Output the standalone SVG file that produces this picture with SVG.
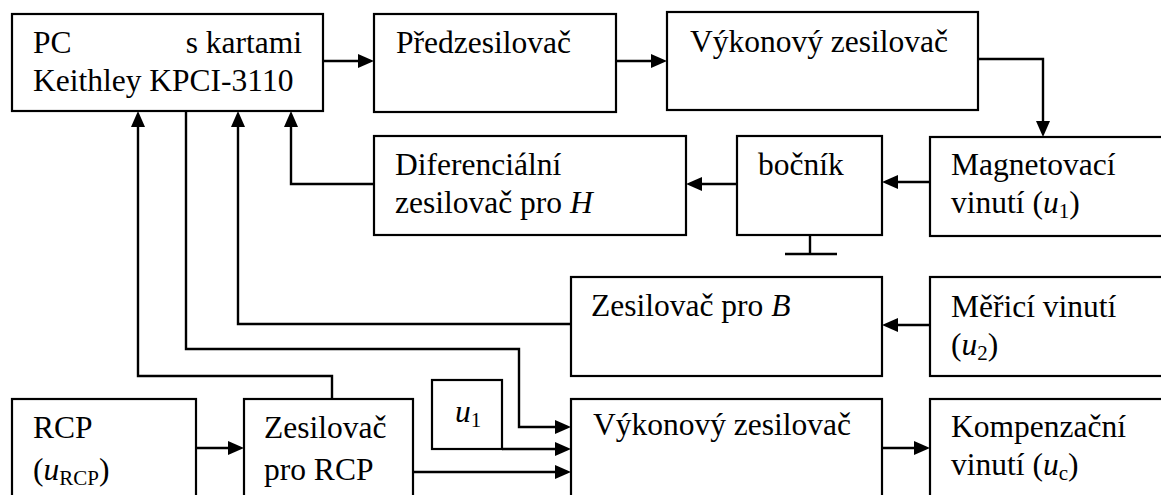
<svg xmlns="http://www.w3.org/2000/svg" width="1161" height="495" viewBox="0 0 1161 495" font-family="Liberation Serif">
<style>
.box{fill:#fff;stroke:#000;stroke-width:2.2}
.c{fill:none;stroke:#000;stroke-width:2.4}
.ah{fill:#000}
</style>
<rect width="1161" height="495" fill="#fff"/>
<g id="connectors">
<path class="c" d="M323,61 H360"/><path class="ah" d="M374,61 l-16,-7 v14 z"/>
<path class="c" d="M616,61 H653"/><path class="ah" d="M667,61 l-16,-7 v14 z"/>
<path class="c" d="M978,59 H1043 V123"/><path class="ah" d="M1043,137 l-7,-16 h14 z"/>
<path class="c" d="M930,182 H896"/><path class="ah" d="M882,182 l16,-7 v14 z"/>
<path class="c" d="M737,184 H700"/><path class="ah" d="M686,184 l16,-7 v14 z"/>
<path class="c" d="M374,184 H291 V125"/><path class="ah" d="M291,111 l-7,16 h14 z"/>
<path class="c" d="M810,235 V254 M785,254 H837"/>
<path class="c" d="M930,325 H896"/><path class="ah" d="M882,325 l16,-7 v14 z"/>
<path class="c" d="M571,324 H238 V125"/><path class="ah" d="M238,111 l-7,16 h14 z"/>
<path class="c" d="M186,111 V349 H519 V427 H557"/><path class="ah" d="M571,427 l-16,-7 v14 z"/>
<path class="c" d="M332,399 V376 H138 V125"/><path class="ah" d="M138,111 l-7,16 h14 z"/>
<path class="c" d="M196,448 H230"/><path class="ah" d="M244,448 l-16,-7 v14 z"/>
<path class="c" d="M502,449 H557"/><path class="ah" d="M571,449 l-16,-7 v14 z"/>
<path class="c" d="M413,472 H557"/><path class="ah" d="M571,472 l-16,-7 v14 z"/>
<path class="c" d="M882,448 H916"/><path class="ah" d="M930,448 l-16,-7 v14 z"/>
</g>
<g id="pc">
<rect class="box" x="12" y="14" width="311" height="97"/>
<text style="font-family:'Liberation Serif' !important;font-size:31.5px" x="33" y="53">PC</text>
<text style="font-family:'Liberation Serif' !important;font-size:31.5px" x="302" y="53" text-anchor="end">s kartami</text>
<text style="font-family:'Liberation Serif' !important;font-size:31.5px" x="33" y="91">Keithley KPCI-3110</text>
</g>
<g id="predzesilovac">
<rect class="box" x="374" y="14" width="242" height="98"/>
<text style="font-family:'Liberation Serif' !important;font-size:31.5px" x="396" y="53">Předzesilovač</text>
</g>
<g id="vykonovy1">
<rect class="box" x="667" y="12" width="311" height="98"/>
<text style="font-family:'Liberation Serif' !important;font-size:31.5px" x="690" y="52">Výkonový zesilovač</text>
</g>
<g id="diferencialni">
<rect class="box" x="374" y="136" width="312" height="99"/>
<text style="font-family:'Liberation Serif' !important;font-size:31.5px" x="395" y="175">Diferenciální</text>
<text style="font-family:'Liberation Serif' !important;font-size:31.5px" x="395" y="213">zesilovač pro <tspan font-style="italic">H</tspan></text>
</g>
<g id="bocnik">
<rect class="box" x="737" y="136" width="145" height="99"/>
<text style="font-family:'Liberation Serif' !important;font-size:31.5px" x="758" y="175">bočník</text>
</g>
<g id="magnetovaci">
<rect class="box" x="930" y="137" width="240" height="99"/>
<text style="font-family:'Liberation Serif' !important;font-size:31.5px" x="951" y="175">Magnetovací</text>
<text style="font-family:'Liberation Serif' !important;font-size:31.5px" x="951" y="213">vinutí (<tspan font-style="italic">u</tspan><tspan font-size="21" dy="5">1</tspan><tspan dy="-5">)</tspan></text>
</g>
<g id="zesilovacB">
<rect class="box" x="571" y="277" width="311" height="99"/>
<text style="font-family:'Liberation Serif' !important;font-size:31.5px" x="591" y="316">Zesilovač pro <tspan font-style="italic">B</tspan></text>
</g>
<g id="merici">
<rect class="box" x="930" y="277" width="240" height="99"/>
<text style="font-family:'Liberation Serif' !important;font-size:31.5px" x="951" y="317">Měřicí vinutí</text>
<text style="font-family:'Liberation Serif' !important;font-size:31.5px" x="951" y="355">(<tspan font-style="italic">u</tspan><tspan font-size="21" dy="5">2</tspan><tspan dy="-5">)</tspan></text>
</g>
<g id="rcp">
<rect class="box" x="12" y="399" width="184" height="110"/>
<text style="font-family:'Liberation Serif' !important;font-size:31.5px" x="33" y="438">RCP</text>
<text style="font-family:'Liberation Serif' !important;font-size:31.5px" x="33" y="480">(<tspan font-style="italic">u</tspan><tspan font-size="21" dy="5">RCP</tspan><tspan dy="-5">)</tspan></text>
</g>
<g id="zesilovacRCP">
<rect class="box" x="244" y="399" width="169" height="110"/>
<text style="font-family:'Liberation Serif' !important;font-size:31.5px" x="264" y="438">Zesilovač</text>
<text style="font-family:'Liberation Serif' !important;font-size:31.5px" x="264" y="480">pro RCP</text>
</g>
<g id="u1">
<rect class="box" x="432" y="380" width="70" height="69"/>
<text style="font-family:'Liberation Serif' !important;font-size:31.5px" x="455" y="422"><tspan font-style="italic">u</tspan><tspan font-size="21" dy="5">1</tspan></text>
</g>
<g id="vykonovy2">
<rect class="box" x="571" y="399" width="311" height="110"/>
<text style="font-family:'Liberation Serif' !important;font-size:31.5px" x="593" y="435">Výkonový zesilovač</text>
</g>
<g id="kompenzacni">
<rect class="box" x="930" y="399" width="240" height="110"/>
<text style="font-family:'Liberation Serif' !important;font-size:31.5px" x="951" y="437">Kompenzační</text>
<text style="font-family:'Liberation Serif' !important;font-size:31.5px" x="951" y="475">vinutí (<tspan font-style="italic">u</tspan><tspan font-size="21" dy="5">c</tspan><tspan dy="-5">)</tspan></text>
</g>
</svg>
